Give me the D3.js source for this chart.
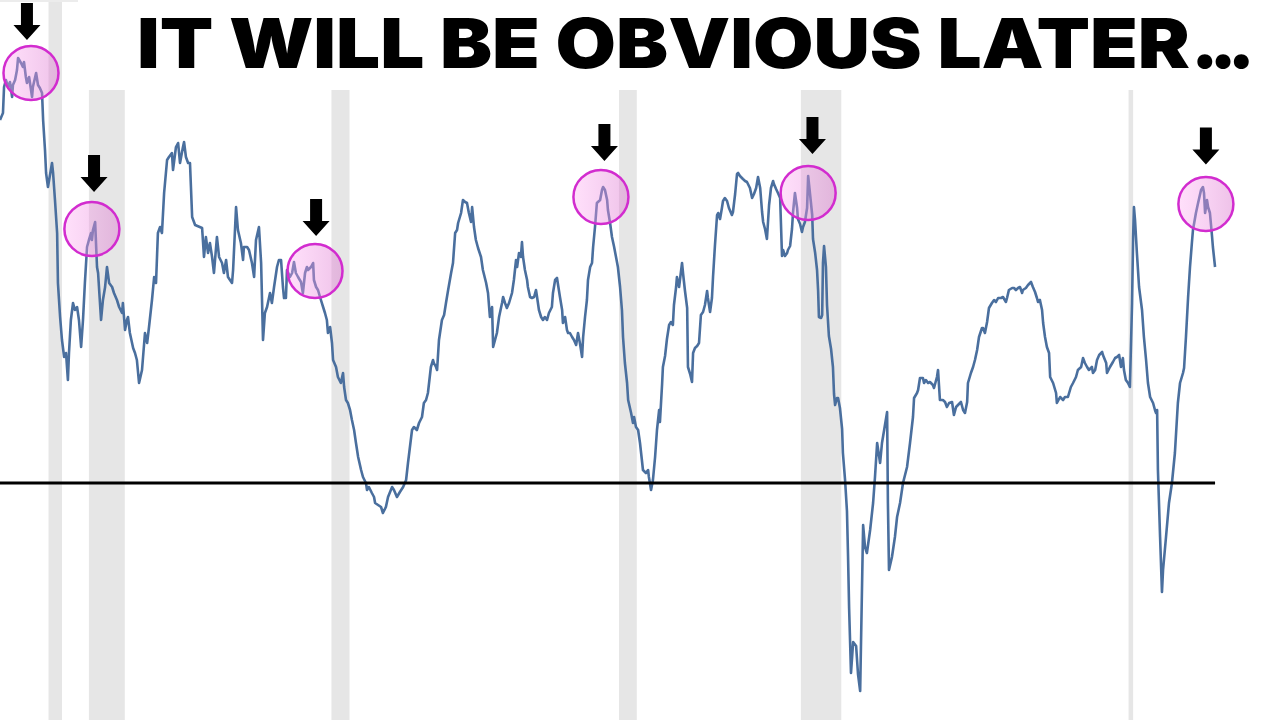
<!DOCTYPE html>
<html><head><meta charset="utf-8">
<script src="https://cdn.jsdelivr.net/npm/d3@7"></script>
<style>html,body{margin:0;padding:0;background:#fff;overflow:hidden}</style>
</head><body><svg id="chart" width="1280" height="720"></svg>
<script>
// ---- data (decimal years, value in %) ----
const years = [
1978.20,1978.31,1978.35,1978.42,1978.50,1978.57,1978.65,1978.68,1978.76,1978.83,1978.87,1978.98,1979.05,1979.09,1979.16,1979.20,1979.28,1979.39,1979.42,1979.54,1979.61,1979.68,1979.76,1979.80,1979.87,1979.91,1979.98,1980.13,1980.17,1980.24,1980.32,1980.35,1980.43,1980.50,1980.58,1980.65,1980.72,1980.76,1980.83,1980.91,1980.98,1981.06,1981.13,1981.21,1981.28,1981.35,1981.43,1981.50,1981.58,1981.61,1981.65,1981.73,1981.80,1981.84,1981.95,1982.02,1982.10,1982.17,1982.25,1982.36,1982.43,1982.54,1982.62,1982.73,1982.76,1982.84,1982.91,1982.95,1983.02,1983.14,1983.21,1983.28,1983.36,1983.47,1983.58,1983.66,1983.73,1983.84,1983.92,1983.99,1984.06,1984.14,1984.21,1984.29,1984.40,1984.47,1984.58,1984.62,1984.73,1984.81,1984.88,1984.99,1985.03,1985.10,1985.18,
1985.25,1985.33,1985.44,1985.70,1985.77,1985.84,1985.92,1985.99,1986.07,1986.14,1986.25,1986.33,1986.44,1986.51,1986.59,1986.66,1986.81,1986.85,1986.96,1987.03,1987.14,1987.22,1987.25,1987.37,1987.44,1987.55,1987.63,1987.70,1987.81,1987.89,1987.96,1988.03,1988.11,1988.22,1988.29,1988.37,1988.48,1988.55,1988.63,1988.70,1988.74,1988.81,1988.85,1988.96,1989.04,1989.11,1989.18,1989.26,1989.37,1989.44,1989.52,1989.59,1989.63,1989.74,1989.82,1989.85,1989.93,1990.00,1990.11,1990.19,1990.26,1990.33,1990.37,1990.45,1990.52,1990.56,1990.67,1990.74,1990.85,1990.93,1990.97,1991.04,1991.11,1991.19,1991.26,1991.34,1991.41,1991.49,1991.60,1991.67,1991.78,1991.82,1991.89,1992.00,1992.08,1992.12,1992.23,1992.34,1992.41,1992.52,1992.60,1992.75,1992.82,1992.93,1993.04,1993.16,1993.27,1993.34,
1993.49,1993.56,1993.67,1993.75,1993.86,1993.93,1994.01,1994.08,1994.19,1994.27,1994.30,1994.38,1994.42,1994.49,1994.60,1994.68,1994.75,1994.83,1994.94,1995.01,1995.09,1995.16,1995.20,1995.31,1995.38,1995.46,1995.53,1995.60,1995.68,1995.72,1995.79,1995.86,1995.94,1996.05,1996.12,1996.24,1996.31,1996.38,1996.46,1996.50,1996.57,1996.64,1996.72,1996.83,1996.87,1996.94,1997.01,1997.09,1997.20,1997.27,1997.35,1997.39,1997.46,1997.53,1997.57,1997.61,1997.68,1997.76,1997.79,1997.87,1997.94,1998.02,1998.09,1998.13,1998.20,1998.28,1998.35,1998.42,1998.50,1998.57,1998.68,1998.72,1998.80,1998.87,1998.91,1998.98,1999.06,1999.09,1999.17,1999.24,1999.28,1999.35,1999.43,1999.50,1999.58,1999.65,1999.72,1999.80,1999.84,1999.91,1999.98,2000.02,2000.10,2000.17,2000.21,2000.28,2000.35,2000.39,2000.47,2000.54,2000.58,2000.65,2000.73,2000.76,2000.84,2000.91,2000.99,2001.06,2001.13,2001.21,2001.28,2001.32,2001.39,2001.47,2001.51,2001.62,2001.69,2001.73,2001.80,2001.88,2001.95,2002.02,2002.06,2002.17,2002.25,2002.28,2002.36,2002.43,2002.51,2002.58,2002.66,
2002.69,2002.77,2002.80,2002.88,2002.95,2003.03,2003.10,2003.17,2003.21,2003.29,2003.32,2003.40,2003.51,2003.55,2003.62,2003.70,2003.73,2003.81,2003.88,2003.92,2003.99,2004.07,2004.14,2004.21,2004.29,2004.36,2004.44,2004.47,2004.55,2004.62,2004.66,2004.73,2004.81,2004.85,2004.92,2004.99,2005.03,2005.10,2005.18,2005.25,2005.36,2005.40,2005.48,2005.55,2005.59,2005.66,2005.77,2005.85,2005.92,2006.03,2006.11,2006.18,2006.26,2006.33,2006.41,2006.48,2006.52,2006.59,2006.66,2006.74,2006.81,2006.89,2006.92,2007.00,2007.07,2007.15,2007.22,2007.26,2007.33,2007.41,2007.44,2007.52,2007.59,2007.63,2007.70,2007.78,2007.81,2007.89,2007.96,2008.00,2008.07,2008.15,2008.19,2008.26,2008.34,2008.37,2008.45,2008.52,2008.56,2008.59,2008.67,2008.71,2008.74,2008.78,2008.85,2008.89,2008.96,2009.04,2009.11,2009.15,2009.19,2009.26,2009.30,2009.37,2009.45,2009.48,2009.56,2009.63,2009.67,2009.71,2009.78,2009.86,2009.97,2010.04,2010.12,
2010.23,2010.30,2010.37,2010.49,2010.60,2010.67,2010.75,2010.86,2010.93,2011.01,2011.12,2011.15,2011.19,2011.30,2011.41,2011.49,2011.60,2011.71,2011.86,2011.97,2012.08,2012.12,2012.23,2012.27,2012.34,2012.45,2012.49,2012.56,2012.64,2012.71,2012.82,2012.86,2012.97,2013.01,2013.08,2013.19,2013.27,2013.34,2013.42,2013.53,2013.60,2013.68,2013.75,2013.86,2013.94,2014.01,2014.09,2014.12,2014.23,2014.31,2014.38,2014.46,2014.53,2014.64,2014.68,2014.75,2014.83,2014.90,2015.01,2015.09,2015.16,2015.24,2015.35,2015.42,2015.53,2015.57,2015.64,2015.76,2015.83,2015.90,2015.98,2016.05,2016.13,2016.16,2016.27,2016.35,2016.46,2016.53,2016.61,2016.68,2016.72,2016.79,2016.87,2016.91,2016.98,2017.05,2017.13,
2017.17,2017.28,2017.39,2017.42,2017.54,2017.65,2017.72,2017.83,2017.94,2018.02,2018.13,2018.20,2018.32,2018.39,2018.46,2018.54,2018.61,2018.72,2018.76,2018.84,2018.91,2018.99,2019.10,2019.13,2019.25,2019.28,2019.39,2019.50,2019.58,2019.65,2019.73,2019.80,2019.87,2019.91,2019.98,2020.06,2020.13,2020.21,2020.25,2020.28,2020.32,2020.39,2020.47,2020.58,2020.65,2020.73,2020.80,2020.88,2020.99,2021.06,2021.10,2021.14,2021.17,2021.25,2021.32,2021.36,2021.47,2021.58,2021.69,2021.80,2021.91,2021.99,2022.10,2022.14,2022.21,2022.29,2022.36,2022.43,2022.47,2022.58,2022.66,2022.77,2022.84,2022.88,2022.92,2022.99,2023.03,2023.10,2023.18,2023.21,2023.29
];
const values = [
14.52,14.80,15.84,16.12,15.84,16.04,15.44,15.92,16.12,16.52,17.00,16.80,16.64,16.84,16.24,16.00,16.24,15.44,15.84,16.40,15.92,15.80,15.60,14.52,13.32,12.40,11.84,12.80,12.40,11.32,10.00,8.00,6.64,5.72,5.04,5.20,4.12,5.20,6.52,7.20,6.92,7.04,6.52,5.44,6.52,8.00,9.44,9.72,10.00,9.72,10.12,10.44,8.64,8.40,6.52,7.32,7.84,8.64,8.00,7.84,7.60,7.32,7.04,6.80,7.20,6.12,6.52,6.64,6.00,5.40,5.20,4.92,4.00,4.52,6.00,5.60,6.24,7.32,8.24,8.00,10.00,10.24,10.00,11.60,12.92,13.04,13.20,12.52,13.44,13.60,12.80,13.44,13.64,13.04,12.80,
12.80,10.64,10.32,10.20,9.04,9.84,9.20,9.60,9.04,8.40,9.84,9.04,8.80,8.40,8.92,8.24,8.00,8.52,11.04,10.12,9.60,8.92,9.44,9.44,9.32,8.80,8.24,9.72,10.24,8.80,5.72,6.80,7.04,7.60,7.20,7.84,8.64,8.92,8.92,7.84,7.40,7.40,8.52,8.24,8.40,8.84,8.40,8.24,8.04,7.60,8.40,8.64,8.52,8.64,8.80,8.12,7.84,7.72,7.32,7.04,6.80,6.52,6.00,6.24,5.60,4.92,4.64,4.24,4.00,4.40,3.84,3.32,3.20,2.92,2.52,2.12,1.60,1.04,0.52,0.24,0.00,-0.28,-0.16,-0.40,-0.56,-0.80,-0.88,-0.96,-1.20,-0.96,-0.56,-0.16,-0.28,-0.56,-0.36,-0.16,0.12,0.80,
2.12,2.24,2.12,2.40,2.64,3.20,3.32,3.60,4.64,4.92,4.80,4.64,4.52,5.72,6.52,6.72,7.20,7.72,8.40,8.80,10.00,10.12,10.40,10.80,11.32,11.24,11.20,10.80,10.44,11.04,10.24,9.72,9.40,9.04,8.52,8.00,7.60,6.64,7.04,5.44,5.72,6.00,6.64,7.20,7.44,7.20,7.00,7.20,7.60,8.12,8.92,8.64,9.20,9.04,9.64,9.04,8.52,8.12,7.84,7.44,7.40,7.44,7.72,7.44,6.92,6.64,6.52,6.64,6.52,6.80,7.04,7.60,8.12,8.20,7.92,7.44,6.92,6.40,6.64,6.12,6.00,6.00,5.84,5.72,5.52,6.00,5.60,5.04,5.84,6.64,7.32,8.12,8.64,8.80,9.44,10.24,11.20,11.24,11.32,11.72,11.84,11.72,11.32,10.92,10.40,9.84,9.44,9.04,8.64,7.84,6.92,5.84,4.80,4.00,3.32,2.80,2.40,2.64,2.24,2.12,1.60,0.92,0.52,0.40,0.52,0.24,-0.28,0.12,1.04,2.12,2.92,
2.44,3.96,4.64,5.08,5.76,6.32,6.44,6.32,7.12,7.84,8.24,7.84,8.80,8.36,7.68,7.00,4.64,4.36,4.04,5.20,5.40,5.48,5.60,6.72,6.84,7.12,7.68,7.40,6.84,7.40,8.24,9.48,10.72,10.80,10.56,11.00,11.28,11.40,11.28,11.00,10.72,10.84,11.56,12.36,12.40,12.28,12.16,12.08,12.04,11.80,11.40,11.56,11.80,12.24,11.80,10.84,10.44,10.16,9.76,11.12,11.80,12.08,11.96,11.76,11.60,11.40,9.08,9.32,9.08,9.20,9.32,9.48,10.16,10.84,11.60,11.00,10.56,10.36,10.04,10.24,10.44,11.00,12.28,11.56,10.72,9.76,9.20,8.52,7.68,6.64,6.60,6.72,8.80,9.48,8.64,7.12,5.88,5.36,4.64,3.56,3.12,3.40,3.40,3.00,2.16,1.20,0.12,-1.12,-2.92,-5.00,-7.60,-6.36,-6.52,-7.64,-8.32,
-1.68,-2.56,-2.80,-1.88,-0.80,0.24,1.60,0.80,1.60,2.12,2.84,-0.80,-3.48,-2.96,-2.16,-1.36,-0.80,0.00,0.64,1.60,2.64,3.40,3.60,3.72,4.20,4.20,4.00,4.12,4.00,4.04,3.92,3.80,4.24,4.52,3.32,3.32,3.24,3.04,3.20,3.24,2.72,3.04,3.12,3.24,2.92,2.80,3.24,4.00,4.40,4.64,4.92,5.32,5.84,6.20,6.20,6.00,6.44,7.00,7.20,7.32,7.24,7.40,7.40,7.44,7.24,7.40,7.72,7.80,7.80,7.72,7.80,7.84,7.60,7.72,7.80,7.92,8.04,7.84,7.64,7.40,7.24,7.32,6.92,6.40,5.84,5.44,5.20,
4.24,4.00,3.60,3.20,3.44,3.32,3.44,3.44,3.84,4.00,4.24,4.52,4.64,5.00,4.80,4.64,4.52,4.64,4.40,4.52,4.92,5.12,5.24,5.12,4.80,4.40,4.64,4.84,5.00,5.04,5.12,4.64,5.00,4.52,4.12,4.00,3.84,7.20,9.84,11.04,10.52,9.20,7.84,6.92,5.84,4.92,4.00,3.44,3.20,2.92,2.80,2.92,0.52,-2.16,-4.36,-3.48,-2.16,-0.80,0.00,1.20,3.20,4.00,4.40,4.60,5.84,7.44,8.64,9.60,10.12,10.80,11.20,11.72,11.84,11.60,10.80,11.32,11.04,10.80,9.84,9.44,8.64
];
const recessions = [[1980.00,1980.50],[1981.50,1982.83],[1990.50,1991.17],[2001.17,2001.83],[2007.92,2009.42],[2020.08,2020.25]];
const peakYears  = [1979.35,1981.61,1989.89,2000.50,2008.19,2022.95];
const peakValues = [16.40,10.16,8.48,11.44,11.60,11.16];
const arrowYears = [1979.20,1981.69,1989.93,2000.63,2008.35,2022.95];
const arrowTips  = [17.72,11.64,9.88,12.88,13.16,12.74];
const zeroLevel = 0;
const titleWords = "IT WILL BE OBVIOUS LATER";
const titleDots = "...";

// ---- drawing ----
const W = 1280, H = 720;
const svg = d3.select("#chart");
const x = d3.scaleLinear().domain([1978.2, 2025.7]).range([0, W]);
const y = d3.scaleLinear().domain([-9.48, 19.32]).range([H, 0]);

const defs = svg.append("defs");
const grad = defs.append("linearGradient").attr("id", "pinkGrad")
  .attr("x1", "0%").attr("x2", "100%").attr("y1", "0%").attr("y2", "0%");
grad.append("stop").attr("offset", "0%").attr("stop-color", "#ffa6f2").attr("stop-opacity", 0.35);
grad.append("stop").attr("offset", "100%").attr("stop-color", "#dc7fd0").attr("stop-opacity", 0.48);

// recession shading
svg.append("g").selectAll("rect").data(recessions).join("rect")
  .attr("x", d => x(d[0]))
  .attr("width", d => x(d[1]) - x(d[0]))
  .attr("y", (d, i) => i === 0 ? 0 : 90)
  .attr("height", (d, i) => i === 0 ? H : H - 90)
  .attr("fill", "#e6e6e6");
svg.append("rect").attr("x", 0).attr("y", 0).attr("width", 78).attr("height", 2).attr("fill", "#ececec");

// series line
const series = years.map((yr, i) => [yr, values[i]]);
svg.append("path").datum(series)
  .attr("fill", "none")
  .attr("stroke", "#4a6f9e")
  .attr("stroke-width", 2.6)
  .attr("stroke-linejoin", "round")
  .attr("d", d3.line().x(d => x(d[0])).y(d => y(d[1])));

// zero line
svg.append("line")
  .attr("x1", x(years[0])).attr("x2", x(years[years.length - 1]))
  .attr("y1", y(zeroLevel)).attr("y2", y(zeroLevel))
  .attr("stroke", "#000").attr("stroke-width", 3.2);

// highlight circles
svg.append("g").selectAll("ellipse").data(peakYears).join("ellipse")
  .attr("cx", d => x(d))
  .attr("cy", (d, i) => y(peakValues[i]))
  .attr("rx", 27.5).attr("ry", 27)
  .attr("fill", "url(#pinkGrad)")
  .attr("stroke", "#d22ccf").attr("stroke-width", 2.5);

// arrows
const arrowPath = (cx, tip) => {
  const sw = 6, hw = 13.5, hh = 15, len = 37;
  return `M${cx - sw},${tip - len} L${cx + sw},${tip - len} L${cx + sw},${tip - hh} L${cx + hw},${tip - hh} L${cx},${tip} L${cx - hw},${tip - hh} L${cx - sw},${tip - hh} Z`;
};
svg.append("g").selectAll("path").data(arrowYears).join("path")
  .attr("d", (d, i) => arrowPath(x(d), y(arrowTips[i])))
  .attr("fill", "#000");

// title
const title = svg.append("text")
  .attr("y", 68)
  .attr("font-family", "Inter, Lato, 'Open Sans', sans-serif")
  .attr("font-weight", 900)
  .attr("font-size", 69)
  .attr("fill", "#000");
title.append("tspan")
  .attr("x", 137)
  .attr("textLength", 1053).attr("lengthAdjust", "spacingAndGlyphs")
  .text(titleWords);
title.append("tspan")
  .attr("x", 1191)
  .attr("font-size", 74)
  .attr("textLength", 64).attr("lengthAdjust", "spacing")
  .text(titleDots);
</script>
</body></html>
